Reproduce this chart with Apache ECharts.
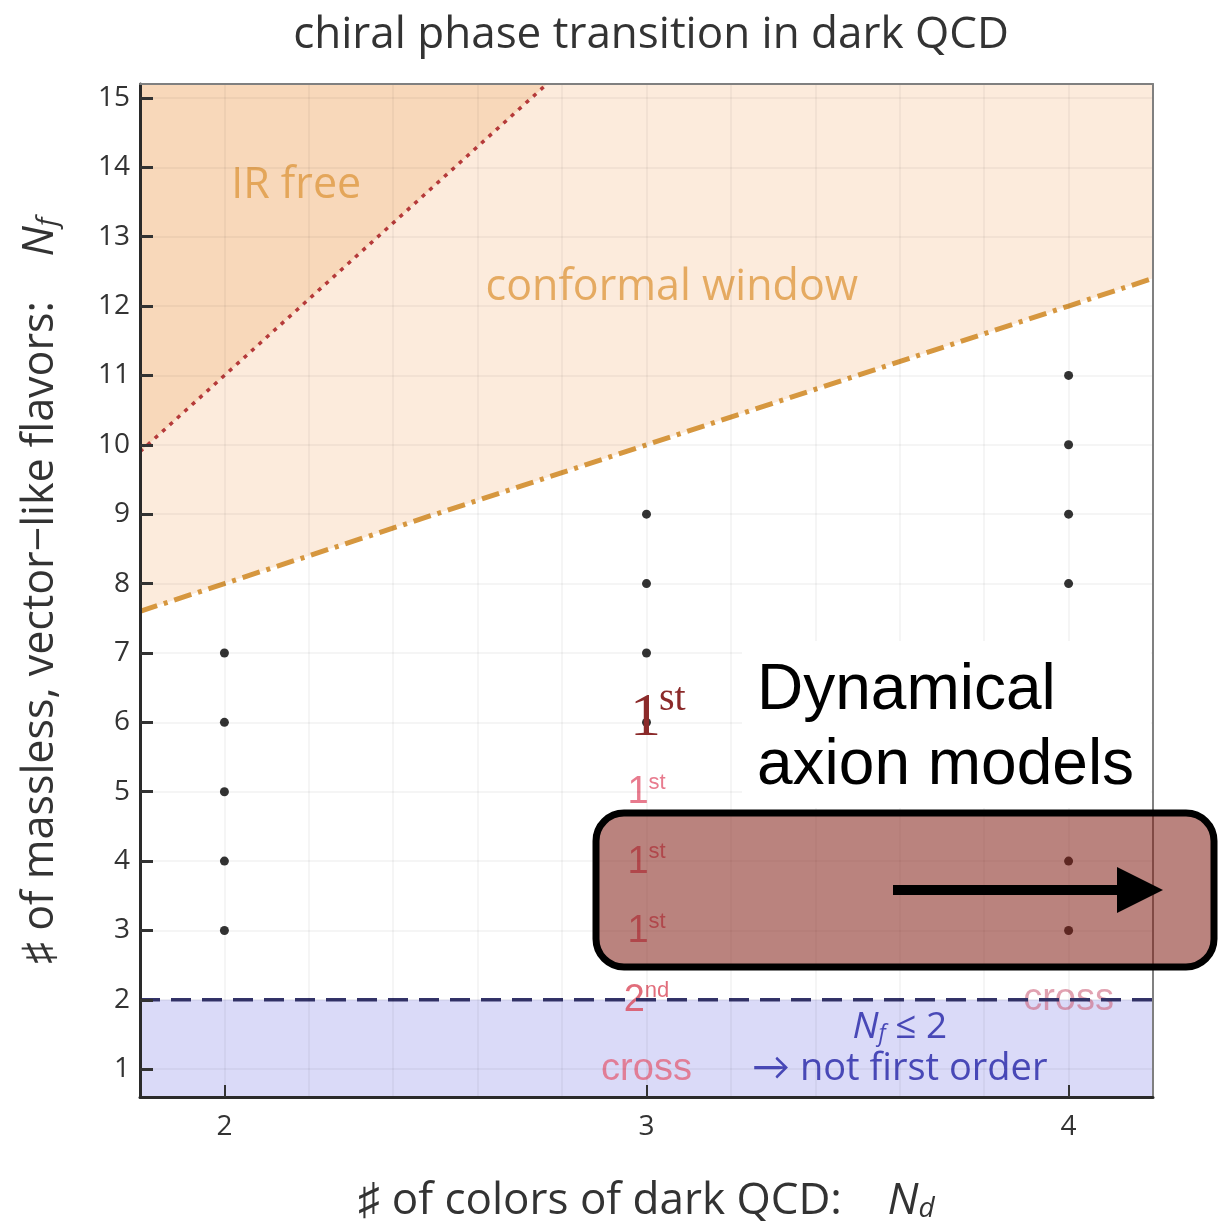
<!DOCTYPE html>
<html><head><meta charset="utf-8">
<script src="https://cdn.jsdelivr.net/npm/echarts@6/dist/echarts.min.js"></script>
<style>html,body{margin:0;padding:0;background:#fff}#c{width:1228px;height:1223px}</style>
</head><body><div id="c"></div>
<script>
// ---- data ----
const xTicks = [2, 3, 4];
const yTicks = [1, 2, 3, 4, 5, 6, 7, 8, 9, 10, 11, 12, 13, 14, 15];
const xGridLines = [2.0, 2.2, 2.4, 2.6, 2.8, 3.0, 3.2, 3.4, 3.6, 3.8, 4.0];
const yGridLines = [1, 2, 3, 4, 5, 6, 7, 8, 9, 10, 11, 12, 13, 14, 15];
// lower edge of conformal window (dash-dot)
const confX = [1.8, 2.0, 3.0, 4.0, 4.2];
const confY = [7.6, 8.0, 10.0, 12.0, 12.4];
// IR free boundary (dotted)
const irX = [1.8, 2.764];
const irY = [9.9, 15.2];
// Nf = 2 boundary (dashed)
const bandX = [1.8, 4.2];
const bandY = [2, 2];
// lattice points
const dotNd = [2, 2, 2, 2, 2, 3, 3, 3, 3, 4, 4, 4, 4, 4, 4, 4, 4, 4];
const dotNf = [3, 4, 5, 6, 7, 6, 7, 8, 9, 3, 4, 5, 6, 7, 8, 9, 10, 11];
// annotations
const annX = [3, 3, 3, 3, 3, 4, 2.17, 3.06, 3.6, 3.6];
const annY = [5, 4, 3, 2, 1, 2, 13.74, 12.27, 1.6, 1.0];
const annText = ['1st', '1st', '1st', '2nd', 'cross', 'cross', 'IR free', 'conformal window', 'Nf ≤ 2', '→ not first order'];

const SANS = '"Liberation Sans", Arial, sans-serif';
const HUM = '"Open Sans", Lato, sans-serif';
const zip = (a, b) => a.map((v, i) => [v, b[i]]);

function annLabel(t, i) {
  if (t === '1st' || t === '2nd') {
    const col = t === '2nd' ? '#d9485a' : '#e25a72';
    return { show: true, position: 'inside', formatter: '{a|' + t[0] + '}{b|' + t.slice(1) + '}',
      rich: { a: { fontSize: 38, color: col, fontFamily: SANS, verticalAlign: 'bottom', lineHeight: 40 },
              b: { fontSize: 22, color: col, fontFamily: SANS, verticalAlign: 'top', lineHeight: 40 } } };
  }
  if (t === 'cross') {
    const faded = annX[i] === 4;
    return { show: true, position: 'inside', formatter: t, fontSize: 38, fontFamily: SANS,
      color: faded ? 'rgba(205,100,125,0.75)' : '#e2667e' };
  }
  if (t === 'IR free' || t === 'conformal window') {
    return { show: true, position: 'inside', formatter: t, fontSize: 43, fontFamily: HUM, color: '#de9a42' };
  }
  if (t === 'Nf ≤ 2') {
    return { show: true, position: 'inside', formatter: '{n|N}{s|f}{t| ≤ 2}',
      rich: { n: { fontSize: 37, fontStyle: 'italic', color: '#2323a6', fontFamily: HUM, verticalAlign: 'bottom' },
              s: { fontSize: 23, fontStyle: 'italic', color: '#2323a6', fontFamily: HUM, verticalAlign: 'bottom' },
              t: { fontSize: 37, color: '#2323a6', fontFamily: HUM, verticalAlign: 'bottom' } } };
  }
  return { show: true, position: 'inside', formatter: t, fontSize: 38, fontFamily: HUM, color: '#2323a6' };
}

const chart = echarts.init(document.getElementById('c'), null, { renderer: 'canvas' });
const option = {
  animation: false,
  backgroundColor: '#fff',
  title: {
    text: 'chiral phase transition in dark QCD', left: 646, top: 8, textAlign: 'center',
    textStyle: { fontSize: 44, fontWeight: 'normal', color: '#333', fontFamily: HUM }
  },
  grid: { left: 140, right: 75, top: 84, bottom: 126, containLabel: false, outerBoundsMode: 'none', show: false },
  xAxis: [{
    type: 'value', min: 1.8, max: 4.2, interval: 0.2, z: 10,
    axisLine: { show: true, onZero: false, lineStyle: { color: '#2a2a2a', width: 3 } },
    axisTick: { show: true, inside: true, length: 12, customValues: xTicks, lineStyle: { color: '#333', width: 2 } },
    axisLabel: { show: true, customValues: xTicks, fontSize: 28, color: '#333', margin: 16, fontFamily: HUM },
    splitLine: { show: false },
    name: '{t|♯ of colors of dark QCD:    }{n|N}{s|d}', nameLocation: 'middle', nameGap: 82,
    nameTextStyle: { rich: {
      t: { fontSize: 44, color: '#333', fontFamily: HUM, verticalAlign: 'bottom' },
      n: { fontSize: 44, color: '#333', fontFamily: HUM, fontStyle: 'italic', verticalAlign: 'bottom' },
      s: { fontSize: 28, color: '#333', fontFamily: HUM, fontStyle: 'italic', verticalAlign: 'bottom' } } }
  }, {
    type: 'value', min: 1.8, max: 4.2, position: 'top', z: 10,
    axisLine: { show: true, onZero: false, lineStyle: { color: '#808080', width: 2 } },
    axisTick: { show: false }, axisLabel: { show: false }, splitLine: { show: false }
  }],
  yAxis: [{
    type: 'value', min: 0.6, max: 15.2, z: 10,
    axisLine: { show: true, onZero: false, lineStyle: { color: '#2a2a2a', width: 3 } },
    axisTick: { show: true, inside: true, length: 13, customValues: yTicks, lineStyle: { color: '#333', width: 3 } },
    axisLabel: { show: true, customValues: yTicks, fontSize: 28, color: '#333', margin: 10, fontFamily: HUM },
    splitLine: { show: false },
    name: '{t|♯ of massless, vector−like flavors:    }{n|N}{s|f}', nameLocation: 'middle', nameGap: 78,
    nameTextStyle: { rich: {
      t: { fontSize: 43, color: '#333', fontFamily: HUM, verticalAlign: 'bottom' },
      n: { fontSize: 43, color: '#333', fontFamily: HUM, fontStyle: 'italic', verticalAlign: 'bottom' },
      s: { fontSize: 28, color: '#333', fontFamily: HUM, fontStyle: 'italic', verticalAlign: 'bottom' } } }
  }, {
    type: 'value', min: 0.6, max: 15.2, position: 'right', z: 10,
    axisLine: { show: true, onZero: false, lineStyle: { color: '#808080', width: 2 } },
    axisTick: { show: false }, axisLabel: { show: false }, splitLine: { show: false }
  }],
  series: [
    { name: 'conformal', type: 'line', z: 1, data: zip(confX, confY), symbol: 'none', silent: true,
      lineStyle: { width: 0 }, areaStyle: { color: '#fcebdc', opacity: 1, origin: 'end' } },
    { name: 'irfree', type: 'line', z: 1, data: zip(irX, irY), symbol: 'none', silent: true,
      lineStyle: { width: 0 }, areaStyle: { color: '#f8d8ba', opacity: 1, origin: 'end' } },
    { name: 'band', type: 'line', z: 1, data: zip(bandX, bandY), symbol: 'none', silent: true,
      lineStyle: { width: 0 }, areaStyle: { color: '#dadaf8', opacity: 1, origin: 'start' } },
    { name: 'grid', type: 'line', z: 2, data: [], silent: true,
      markLine: { silent: true, symbol: 'none', animation: false, label: { show: false },
        lineStyle: { color: 'rgba(0,0,0,0.04)', width: 2, type: 'solid' },
        data: xGridLines.map(v => ({ xAxis: v })).concat(yGridLines.map(v => ({ yAxis: v }))) } },
    { name: 'ann', type: 'scatter', z: 3, symbolSize: 1, itemStyle: { color: 'rgba(0,0,0,0)' }, silent: true,
      data: annText.map((t, i) => ({ value: [annX[i], annY[i]], label: annLabel(t, i) })) },
    { name: 'confLine', type: 'line', z: 4, data: zip(confX, confY), symbol: 'none', silent: true,
      lineStyle: { color: '#d6973f', width: 5, type: [18, 7, 4, 7] } },
    { name: 'irLine', type: 'line', z: 4, data: zip(irX, irY), symbol: 'none', silent: true,
      lineStyle: { color: '#b53a3a', width: 3.5, type: [4, 6] } },
    { name: 'bandLine', type: 'line', z: 4, data: zip(bandX, bandY), symbol: 'none', silent: true,
      lineStyle: { color: '#34346a', width: 3.5, type: [20, 11] } },
    { name: 'points', type: 'scatter', z: 5, symbolSize: 9, itemStyle: { color: '#000' }, silent: true,
      data: zip(dotNd, dotNf) }
  ],
  graphic: [
    { type: 'rect', z: 100, shape: { x: 742, y: 641, width: 409, height: 167 }, style: { fill: '#fff' } },
    { type: 'text', z: 101, x: 757, y: 691, style: { text: 'Dynamical', font: '64px "Liberation Sans", Arial, sans-serif', fill: '#000', verticalAlign: 'middle' } },
    { type: 'text', z: 101, x: 757, y: 766, style: { text: 'axion models', font: '64px "Liberation Sans", Arial, sans-serif', fill: '#000', verticalAlign: 'middle' } },
    { type: 'text', z: 101, x: 630, y: 719, style: { text: '1', font: '62px "Liberation Serif", "DejaVu Serif", serif', fill: '#8b2a2a', verticalAlign: 'middle' } },
    { type: 'text', z: 101, x: 659, y: 699, style: { text: 'st', font: '40px "Liberation Serif", "DejaVu Serif", serif', fill: '#8b2a2a', verticalAlign: 'middle' } },
    { type: 'rect', z: 102, shape: { x: 596, y: 813, width: 618, height: 154, r: 28 }, style: { fill: 'rgba(130,30,20,0.55)', stroke: '#000', lineWidth: 7 } },
    { type: 'line', z: 103, shape: { x1: 893, y1: 890, x2: 1122, y2: 890 }, style: { stroke: '#000', lineWidth: 10 } },
    { type: 'polygon', z: 103, shape: { points: [[1117, 867], [1163, 890], [1117, 913]] }, style: { fill: '#000' } }
  ]
};
chart.setOption(option);
</script></body></html>
